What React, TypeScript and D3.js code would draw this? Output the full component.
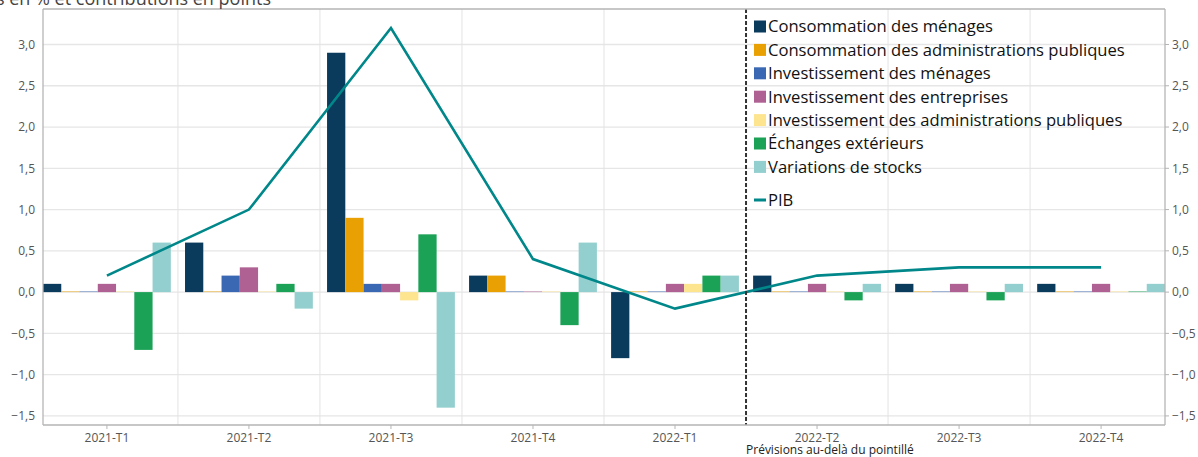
import React from "react";
import * as d3 from "d3";

const quarters = ["2021-T1", "2021-T2", "2021-T3", "2021-T4", "2022-T1", "2022-T2", "2022-T3", "2022-T4"];
const seriesNames = [
  "Consommation des ménages",
  "Consommation des administrations publiques",
  "Investissement des ménages",
  "Investissement des entreprises",
  "Investissement des administrations publiques",
  "Échanges extérieurs",
  "Variations de stocks",
];
const seriesColors = ["#0a3a5c", "#e9a003", "#3a68b2", "#ae6192", "#fde48f", "#1ba257", "#94cfcf"];

const consMenages = [0.1, 0.6, 2.9, 0.2, -0.8, 0.2, 0.1, 0.1];
const consAPU = [0.0, 0.0, 0.9, 0.2, 0.0, 0.0, 0.0, 0.0];
const invMenages = [0.0, 0.2, 0.1, 0.0, 0.0, 0.0, 0.0, 0.0];
const invEntreprises = [0.1, 0.3, 0.1, 0.0, 0.1, 0.1, 0.1, 0.1];
const invAPU = [0.0, 0.0, -0.1, 0.0, 0.1, 0.0, 0.0, 0.0];
const echanges = [-0.7, 0.1, 0.7, -0.4, 0.2, -0.1, -0.1, 0.0];
const stocks = [0.6, -0.2, -1.4, 0.6, 0.2, 0.1, 0.1, 0.1];
const pib = [0.2, 1.0, 3.2, 0.4, -0.2, 0.2, 0.3, 0.3];

const yTicks = [-1.5, -1.0, -0.5, 0.0, 0.5, 1.0, 1.5, 2.0, 2.5, 3.0];

const allSeries = [consMenages, consAPU, invMenages, invEntreprises, invAPU, echanges, stocks];

const W = 1198;
const H = 457;
const left = 43;
const right = 1165;
const top = 9;
const bottom = 425;
const FONT = "'Open Sans', 'Noto Sans', sans-serif";

export default function App() {
  const y = d3.scaleLinear().domain([-1.61, 3.43]).range([bottom, top]);
  const x0 = d3.scaleBand<string>().domain(quarters).range([left, right]).paddingInner(0.1).paddingOuter(0);
  const x1 = d3.scaleBand<string>().domain(seriesNames).range([0, x0.bandwidth()]).padding(0);
  const gap = x0.step() - x0.bandwidth();
  const fmt = (v: number) => {
    const s = Math.abs(v).toFixed(1).replace(".", ",");
    return v < 0 ? "\u2212" + s : s;
  };
  const line = d3
    .line<number>()
    .x((_, i) => (x0(quarters[i]) as number) + x0.bandwidth() / 2)
    .y((d) => y(d));
  const boundaries = quarters.slice(0, -1).map((q) => (x0(q) as number) + x0.bandwidth() + gap / 2);
  const dashedX = boundaries[4];

  return (
    <svg width={W} height={H} style={{ position: "absolute", left: 0, top: 0, background: "#fff" }} fontFamily={FONT}>
      {/* grid */}
      {yTicks.map((t) => (
        <line key={"gy" + t} x1={left} x2={right} y1={y(t)} y2={y(t)} stroke="#e6e6e6" strokeWidth={1.3} />
      ))}
      {boundaries.map((bx, i) =>
        i === 4 ? null : <line key={"gx" + i} x1={bx} x2={bx} y1={top} y2={bottom} stroke="#e3e3e3" strokeWidth={1} />
      )}
      {/* bars */}
      {quarters.map((q, qi) => (
        <g key={q} transform={`translate(${x0(q)},0)`}>
          {allSeries.map((s, si) => {
            const v = s[qi];
            const y0 = y(0);
            const yv = y(v);
            let h = Math.abs(yv - y0);
            const isZero = h < 0.5;
            if (isZero) h = 1;
            return (
              <rect
                key={si}
                x={x1(seriesNames[si])}
                width={x1.bandwidth()}
                y={v >= 0 ? y0 - h : y0}
                height={h}
                fill={seriesColors[si]}
                opacity={isZero ? 0.5 : 1}
              />
            );
          })}
        </g>
      ))}
      {/* PIB line */}
      <path d={line(pib) || ""} fill="none" stroke="#00878a" strokeWidth={2.6} />
      {/* dashed forecast line */}
      <line x1={dashedX} x2={dashedX} y1={top} y2={bottom} stroke="#333" strokeWidth={2} strokeDasharray="4,2" />
      {/* frame */}
      <line x1={left} x2={right} y1={top} y2={top} stroke="#b5b5b5" strokeWidth={1.3} />
      <line x1={left} x2={right} y1={bottom} y2={bottom} stroke="#b5b5b5" strokeWidth={1.3} />
      <line x1={left} x2={left} y1={top} y2={bottom} stroke="#b5b5b5" strokeWidth={1.3} />
      <line x1={right} x2={right} y1={top} y2={bottom} stroke="#b5b5b5" strokeWidth={1.3} />
      {/* y labels */}
      {yTicks.map((t) => (
        <g key={"yl" + t}>
          <text x={35} y={y(t)} dy="0.35em" textAnchor="end" fontSize={12} fill="#555">
            {fmt(t)}
          </text>
          <line x1={right} x2={right + 4} y1={y(t)} y2={y(t)} stroke="#b5b5b5" />
          <text x={1172} y={y(t)} dy="0.35em" textAnchor="start" fontSize={12} fill="#555">
            {fmt(t)}
          </text>
        </g>
      ))}
      {/* x labels */}
      {quarters.map((q) => {
        const cx = (x0(q) as number) + x0.bandwidth() / 2;
        return (
          <g key={"xl" + q}>
            <line x1={cx} x2={cx} y1={bottom} y2={bottom + 4} stroke="#b5b5b5" />
            <text x={cx} y={442} textAnchor="middle" fontSize={12} fill="#555">
              {q}
            </text>
          </g>
        );
      })}
      <text x={dashedX} y={454} fontSize={12} fill="#222">
        Prévisions au-delà du pointillé
      </text>
      {/* title (cut off) */}
      <text x={271} y={5} textAnchor="end" fontSize={18} fill="#444">
        Variations en % et contributions en points
      </text>
      {/* legend */}
      {seriesNames.map((n, i) => {
        const cy = 26.5 + i * 23.4;
        return (
          <g key={"lg" + i}>
            <rect x={754} y={cy - 6} width={12} height={12} fill={seriesColors[i]} />
            <text x={768} y={cy} dy="0.35em" fontSize={16.6} fill="#111">
              {n}
            </text>
          </g>
        );
      })}
      <line x1={754} x2={766} y1={200} y2={200} stroke="#00878a" strokeWidth={3} />
      <text x={768} y={200} dy="0.35em" fontSize={16.6} fill="#111">
        PIB
      </text>
    </svg>
  );
}
